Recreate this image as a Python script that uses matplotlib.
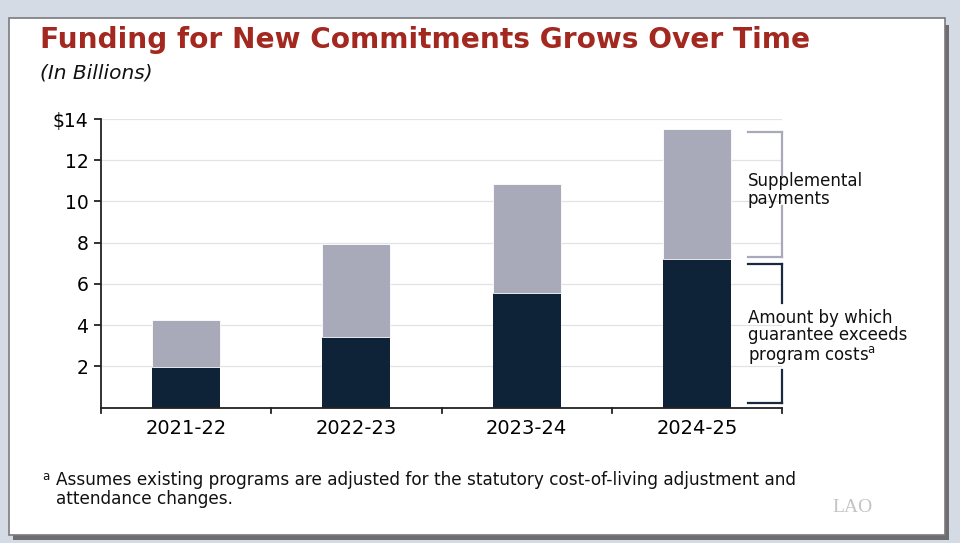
import matplotlib
matplotlib.use("Agg")
import matplotlib.pyplot as plt
from matplotlib.patches import Rectangle

categories = ["2021-22", "2022-23", "2023-24", "2024-25"]
excess = [1.97, 3.42, 5.56, 7.2]
supplemental = [2.28, 4.52, 5.29, 6.3]
yticks = [2, 4, 6, 8, 10, 12, 14]
ytick_labels = ["2", "4", "6", "8", "10", "12", "$14"]

W, H = 960, 543
fig = plt.figure(figsize=(W / 100, H / 100), dpi=100)
fig.patch.set_facecolor("#D4DBE4")
plt.rcParams['font.family'] = ['DejaVu Sans']

def fx(px):
    return px / W

def fy(py):
    return 1 - py / H

# shadow and white panel
fig.patches.append(Rectangle((fx(13), fy(540)), fx(936), (536 - 21) / H,
                             transform=fig.transFigure, facecolor="#6E6E72",
                             edgecolor="none", zorder=0))
fig.patches.append(Rectangle((fx(9), fy(535)), fx(936), (535 - 18) / H,
                             transform=fig.transFigure, facecolor="white",
                             edgecolor="#7A7A7E", linewidth=1.2, zorder=0.5))

ax = fig.add_axes([fx(101), fy(407.5), fx(782 - 101), (407.5 - 119) / H])
ax.set_zorder(3)
ax.set_xlim(-0.5, 3.5)
ax.set_ylim(0, 14)

dark = "#0E2238"
grey = "#A9AAB9"
x = list(range(len(categories)))
ax.bar(x, excess, width=0.4, color=dark, zorder=2)
ax.bar(x, supplemental, width=0.4, bottom=excess, color=grey, zorder=2,
       edgecolor="white", linewidth=0.6)

ax.set_yticks(yticks)
ax.set_yticklabels(ytick_labels, fontsize=13.5)
for yv in yticks:
    ax.axhline(yv, color="#E3E3E6", linewidth=0.9, zorder=1)
ax.tick_params(axis="y", length=5, width=1.3, color="#222222", pad=4)
ax.set_xticks(x)
ax.set_xticklabels(categories, fontsize=14)
ax.tick_params(axis="x", length=0, pad=8)
for b in [-0.5, 0.5, 1.5, 2.5, 3.5]:
    ax.plot([b, b], [0, -0.25], color="#222222", linewidth=1.3, clip_on=False)
for s in ["top", "right"]:
    ax.spines[s].set_visible(False)
for s in ["left", "bottom"]:
    ax.spines[s].set_color("#222222")
    ax.spines[s].set_linewidth(1.3)
ax.patch.set_alpha(0)

# brackets
bx, bl = 3.5, 3.3
def bracket(y0, y1, gap0, gap1, color):
    ax.plot([bl, bx], [y1, y1], color=color, lw=1.6, clip_on=False)
    ax.plot([bl, bx], [y0, y0], color=color, lw=1.6, clip_on=False)
    ax.plot([bx, bx], [y1, gap1], color=color, lw=1.6, clip_on=False)
    ax.plot([bx, bx], [gap0, y0], color=color, lw=1.6, clip_on=False)

bracket(7.3, 13.35, 9.8, 11.25, grey)
bracket(0.23, 6.97, 1.8, 5.05, "#1A2A3E")
ax.text(bl, 10.55, "Supplemental\npayments", fontsize=12, va="center",
        ha="left", linespacing=1.0, color="#111111")
ax.text(bl, 3.4, "Amount by which\nguarantee exceeds\nprogram costs$^{\\mathrm{a}}$",
        fontsize=12, va="center", ha="left", linespacing=0.98, color="#111111")

fig.text(fx(40), fy(40), "Funding for New Commitments Grows Over Time",
         fontsize=20.2, fontweight="bold", color="#A3281F", va="center",
         ha="left")
fig.text(fx(40), fy(73), "(In Billions)", fontsize=14.5, style="italic",
         color="#111111", va="center", ha="left")
fig.text(fx(42), fy(476), "a", fontsize=8.5, color="#111111", va="center")
fig.text(fx(56), fy(471), "Assumes existing programs are adjusted for the statutory cost-of-living adjustment and\nattendance changes.",
         fontsize=12.2, color="#111111", va="top", ha="left", linespacing=1.05)
fig.text(fx(832), fy(508), "LAO", fontsize=14, family=["Liberation Serif"],
         color="#C4C4C4", va="center", ha="left")

fig.savefig("out.png", dpi=100, facecolor=fig.get_facecolor())
